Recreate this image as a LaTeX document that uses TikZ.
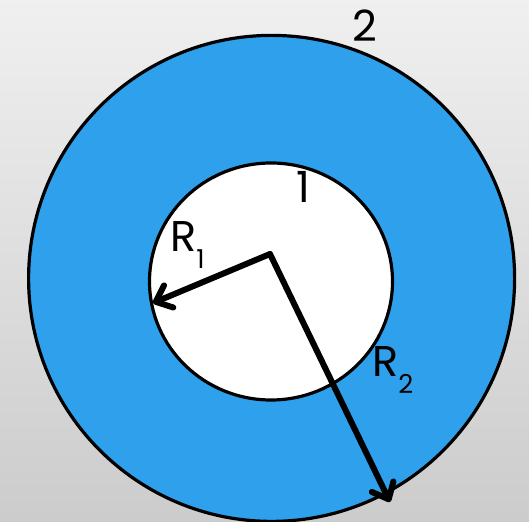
\documentclass[tikz,border=0pt]{standalone}
\usepackage{fontspec}
\setmainfont{Poppins}
\usetikzlibrary{arrows.meta,shapes.geometric}
\definecolor{ringblue}{HTML}{2FA1EC}
\tikzset{
  ring/.style={draw=black, line width=3.2pt},
  radius arrow/.style={draw=black, line width=6pt, line cap=round, line join=round,
    -{Straight Barb[length=14pt,width=24pt,line cap=round,line join=round]}},
  lbl/.style={inner sep=0pt, font=\fontsize{43}{43}\selectfont},
}
\newcommand{\subs}[1]{\raisebox{-0.38em}{\fontsize{26}{26}\selectfont #1}}
\begin{document}
\begin{tikzpicture}[x=1pt,y=1pt]
\useasboundingbox (0,0) rectangle (529,521);
\shade[top color=black!6, bottom color=black!20] (0,0) rectangle (529,521);
\node[ring, fill=ringblue, circle, minimum size=486pt, inner sep=0pt] (outer) at (271.6,242.6) {};
\node[ring, fill=white, ellipse, minimum width=243pt, minimum height=237pt, inner sep=0pt] (inner) at (271,239.5) {};
\coordinate (O) at (270,267);
\coordinate (t1) at (153,218);
\coordinate (t2) at (390,19);
\draw[radius arrow] (O) -- (t1);
\draw[radius arrow] (O) -- (t2);
\node[lbl, anchor=base west] (l2) at (352,479.3) {2};
\node[lbl, anchor=base] (l1) at (303,318.7) {1};
\node[lbl, anchor=base west] (r1) at (170,269.3) {R\subs{1}};
\node[lbl, anchor=base west] (r2) at (372,144.3) {R\subs{2}};
\end{tikzpicture}
\end{document}
